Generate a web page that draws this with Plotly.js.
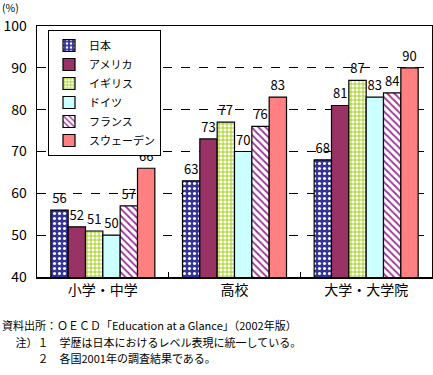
<!DOCTYPE html>
<html><head><meta charset="utf-8">
<script src="https://cdn.plot.ly/plotly-3.0.1.min.js"></script>
<style>body{margin:0;background:#fff}#c{width:433px;height:375px}</style>
</head><body><div id="c"></div>
<script>
const categories = ["小学・中学", "高校", "大学・大学院"];
const countries = ["日本", "アメリカ", "イギリス", "ドイツ", "フランス", "スウェーデン"];
const japan = [56, 63, 68];
const usa = [52, 73, 81];
const uk = [51, 77, 87];
const germany = [50, 70, 83];
const france = [57, 76, 84];
const sweden = [66, 83, 90];
const yTicks = [40, 50, 60, 70, 80, 90, 100];

const F = '"Noto Sans CJK JP", "DejaVu Sans", sans-serif';
const seriesVals = [japan, usa, uk, germany, france, sweden];
const styles = [
  {color:'#333399', pattern:{shape:'.', bgcolor:'#333399', fgcolor:'#ffffff', size:5, solidity:0.3}},
  {color:'#993366'},
  {color:'#ffffff', pattern:{shape:'+', bgcolor:'#ffffff', fgcolor:'#99CC00', size:4, solidity:0.4}},
  {color:'#CCFFFF'},
  {color:'#ffffff', pattern:{shape:'\\', bgcolor:'#ffffff', fgcolor:'#993399', size:5, solidity:0.35}},
  {color:'#FF8080'}
];
const traces = countries.map((n, i) => ({
  type:'bar', name:n, x:categories, y:seriesVals[i],
  text:seriesVals[i].map(String), textposition:'outside', cliponaxis:false,
  textfont:{family:F, size:13, color:'#000'},
  marker:Object.assign({line:{color:'#000', width:1.2}}, styles[i])
}));
const notes = [
  {text:'資料出所：ＯＥＣＤ「Education at a Glance」（2002年版）', y:325},
  {text:'　 注）１　学歴は日本におけるレベル表現に統一している。', y:342},
  {text:'　　　 ２　各国2001年の調査結果である。', y:358}
];
const annotations = notes.map(n => ({
  xref:'paper', yref:'paper', x:(0-37)/395, y:(277-n.y)/251, xanchor:'left', yanchor:'middle',
  text:n.text, showarrow:false, font:{family:F, size:11, color:'#000'}
}));
annotations.push({xref:'paper', yref:'paper', x:(1-37)/395, y:(277+1)/251, xanchor:'left', yanchor:'top',
  text:'(%)', showarrow:false, font:{family:F, size:10.5, color:'#000'}, borderpad:0});
const layout = {
  width:433, height:375, margin:{l:37, r:1, t:26, b:98},
  paper_bgcolor:'#fff', plot_bgcolor:'#fff',
  font:{family:F, color:'#000'},
  bargap:0.21, bargroupgap:0, barmode:'group',
  showlegend:true,
  legend:{x:(48-37)/395, y:(277-30)/251, xanchor:'left', yanchor:'top', bgcolor:'#fff',
    bordercolor:'#000', borderwidth:1, font:{family:F, size:11, color:'#000'}, tracegroupgap:0,
    itemwidth:30},
  xaxis:{type:'category', showline:true, mirror:true, linecolor:'#000', linewidth:1.5,
    ticks:'inside', tickson:'boundaries', ticklen:5, tickcolor:'#000',
    tickfont:{family:F, size:14, color:'#000'}, showgrid:false},
  yaxis:{range:[40,100], tickvals:yTicks, showline:true, mirror:true, linecolor:'#000', linewidth:1.5,
    showgrid:true, gridcolor:'#000', griddash:'dash', gridwidth:1, zeroline:false,
    tickfont:{family:F, size:14, color:'#000'}, ticks:'', ticklabelstandoff:6},
  annotations:annotations
};
Plotly.newPlot('c', traces, layout, {displayModeBar:false, staticPlot:true});
</script></body></html>
